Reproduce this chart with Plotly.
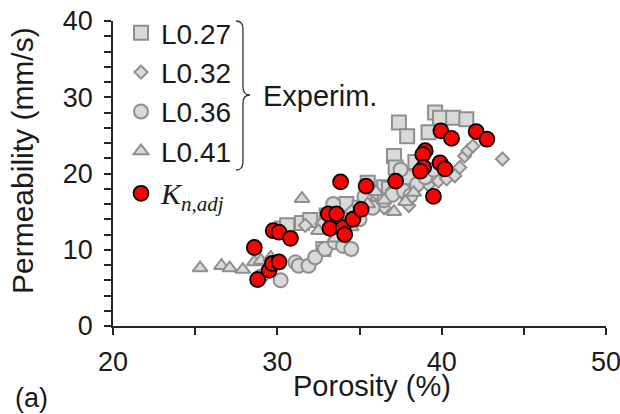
import plotly.graph_objects as go

# ---------------- data ----------------
sq_x = [30.3, 30.6, 31.5, 32.0, 32.8, 33.0, 33.5, 34.2, 35.0, 35.5, 36.0, 36.5, 37.1, 37.2, 37.4, 37.9, 38.4, 39.2, 39.6, 39.9, 40.7, 41.5, 38.0, 36.8]
sq_y = [12.8, 13.2, 13.5, 13.9, 10.1, 14.5, 15.2, 16.0, 15.5, 18.8, 17.0, 18.2, 22.3, 20.8, 26.7, 24.9, 21.5, 25.4, 28.0, 27.3, 27.3, 27.1, 19.5, 18.0]

di_x = [31.7, 32.7, 33.5, 34.5, 35.5, 36.2, 37.0, 37.8, 38.5, 39.2, 39.8, 40.3, 40.8, 41.1, 41.4, 41.6, 41.9, 43.7, 38.0, 36.5]
di_y = [13.2, 13.4, 14.5, 15.0, 16.2, 17.0, 17.8, 17.0, 18.2, 18.5, 19.0, 19.3, 19.7, 20.8, 22.3, 23.0, 23.6, 21.9, 15.8, 15.5]

ci_x = [29.0, 30.2, 31.1, 31.3, 31.9, 32.3, 32.9, 33.5, 33.4, 34.0, 34.5, 35.0, 35.8, 36.5, 37.0, 37.7, 38.1, 38.5, 39.0, 39.5, 37.5, 35.3]
ci_y = [6.5, 6.0, 8.35, 7.9, 7.9, 9.0, 10.1, 11.0, 16.0, 10.5, 10.1, 14.0, 15.5, 16.5, 17.2, 17.7, 17.1, 18.6, 19.5, 20.5, 20.5, 17.0]

tr_x = [25.3, 26.6, 27.1, 27.9, 28.6, 29.0, 29.6, 31.5, 32.5, 33.2, 33.8, 34.5, 35.0, 35.5, 36.5, 37.1, 37.8, 38.3, 33.5, 36.0]
tr_y = [7.6, 7.9, 7.6, 7.4, 8.4, 8.6, 9.0, 16.7, 12.5, 13.5, 14.0, 13.0, 15.0, 16.0, 16.5, 15.0, 16.3, 17.5, 11.5, 17.6]

kn_x = [28.6, 28.8, 29.5, 29.7, 30.1, 29.75, 30.1, 30.8, 33.85, 35.4, 33.1, 33.6, 33.2, 34.0, 34.1, 34.6, 35.1,
        37.2, 39.0, 38.85, 38.9, 38.7, 39.9, 40.2, 39.5, 39.95, 40.6, 42.1, 42.75]
kn_y = [10.3, 6.1, 7.3, 8.2, 8.4, 12.5, 12.3, 11.5, 18.9, 18.35, 14.7, 14.7, 12.8, 12.9, 12.0, 14.0, 15.3,
        19.0, 23.0, 22.5, 20.8, 20.3, 21.4, 20.6, 17.0, 25.6, 24.6, 25.5, 24.5]

names = ["L0.27", "L0.32", "L0.36", "L0.41"]
x_ticks = [20, 30, 40, 50]
y_ticks = [0, 10, 20, 30, 40]

# ---------------- style ----------------
W, H = 620, 414
ML, MR, MT, MB = 113, 14, 21, 88
PW, PH = W - ML - MR, H - MT - MB
FONT = "Liberation Sans, Arial, sans-serif"
GREY_FILL = "#d9d9d9"
GREY_LINE = "#8f8f8f"


def px2paper(px, py):
    return (px - ML) / PW, (H - MB - py) / PH


fig = go.Figure()
series = [(sq_x, sq_y, "square", 14), (di_x, di_y, "diamond", 10),
          (ci_x, ci_y, "circle", 14), (tr_x, tr_y, "triangle-up", 13)]
for (xs, ys, sym, sz), nm in zip(series, names):
    fig.add_trace(go.Scatter(
        x=xs, y=ys, mode="markers", name=nm, legendgroup="exp",
        marker=dict(symbol=sym, size=sz, color=GREY_FILL,
                    line=dict(color=GREY_LINE, width=2))))

fig.add_trace(go.Scatter(
    x=kn_x, y=kn_y, mode="markers", legendgroup="kn",
    name='<span style="font-family:Liberation Serif, DejaVu Serif, serif;font-size:30px"><i>K</i><sub><i>n,adj</i></sub></span>',
    marker=dict(symbol="circle", size=15, color="#ff0000",
                line=dict(color="#000000", width=1.8))))

axis_common = dict(showgrid=False, zeroline=False, showline=True, automargin=False,
                   linecolor="#262626", linewidth=1.5,
                   ticks="outside", ticklen=7, tickwidth=1.5, tickcolor="#262626",
                   ticklabeloverflow="allow",
                   tickfont=dict(family=FONT, size=27, color="#1a1a1a"))

fig.update_xaxes(range=[20, 50], tickvals=x_ticks, ticktext=[str(v) for v in x_ticks],
                 minor=dict(dtick=5, tick0=20, ticks="outside", ticklen=7, tickwidth=1.5,
                            tickcolor="#262626"),
                 ticklabelstandoff=4, **axis_common)
fig.update_yaxes(range=[0, 40], tickvals=y_ticks, ticktext=[str(v) for v in y_ticks],
                 minor=dict(dtick=2, tick0=0, ticks="outside", ticklen=7, tickwidth=1.5,
                            tickcolor="#262626"),
                 ticklabelstandoff=6, **axis_common)

# brace decoration
pts = {
    "a": px2paper(236, 21), "b": px2paper(243, 21), "c": px2paper(243, 29),
    "d": px2paper(243, 87), "e": px2paper(243, 95), "f": px2paper(250, 95),
    "g": px2paper(243, 95), "h": px2paper(243, 103), "i": px2paper(243, 162),
    "j": px2paper(243, 170), "k": px2paper(236, 170),
}
P = lambda k: f"{pts[k][0]:.4f},{pts[k][1]:.4f}"
path = (f"M {P('a')} Q {P('b')} {P('c')} L {P('d')} Q {P('e')} {P('f')} "
        f"Q {P('g')} {P('h')} L {P('i')} Q {P('j')} {P('k')}")
fig.add_shape(type="path", path=path, xref="paper", yref="paper",
              line=dict(color="#333333", width=1.3))

ex, ey = px2paper(261, 96)
ax_x, ax_y = px2paper(372, 386)
ay_x, ay_y = px2paper(22, 161)
a_x, a_y = px2paper(31, 398)
fig.add_annotation(x=ex, y=ey, xref="paper", yref="paper", text="Experim.",
                   showarrow=False, xanchor="left", yanchor="middle",
                   font=dict(family=FONT, size=29, color="#1a1a1a"))
fig.add_annotation(x=ax_x, y=ax_y, xref="paper", yref="paper", text="Porosity (%)",
                   showarrow=False, xanchor="center", yanchor="middle",
                   font=dict(family=FONT, size=29, color="#1a1a1a"))
fig.add_annotation(x=ay_x, y=ay_y, xref="paper", yref="paper", text="Permeability (mm/s)",
                   showarrow=False, xanchor="center", yanchor="middle", textangle=-90,
                   font=dict(family=FONT, size=30, color="#1a1a1a"))
fig.add_annotation(x=a_x, y=a_y, xref="paper", yref="paper", text="(a)",
                   showarrow=False, xanchor="center", yanchor="middle",
                   font=dict(family=FONT, size=27, color="#1a1a1a"))

lx, ly = px2paper(121, 8)
fig.update_layout(
    width=W, height=H, margin=dict(l=ML, r=MR, t=MT, b=MB, autoexpand=False),
    paper_bgcolor="white", plot_bgcolor="white",
    showlegend=True,
    legend=dict(x=lx, y=ly, xanchor="left", yanchor="top",
                bgcolor="rgba(0,0,0,0)", borderwidth=0,
                traceorder="grouped", tracegroupgap=3, maxheight=400,
                font=dict(family=FONT, size=28, color="#1a1a1a"),
                itemwidth=30),
)

fig.write_html("out.html")
